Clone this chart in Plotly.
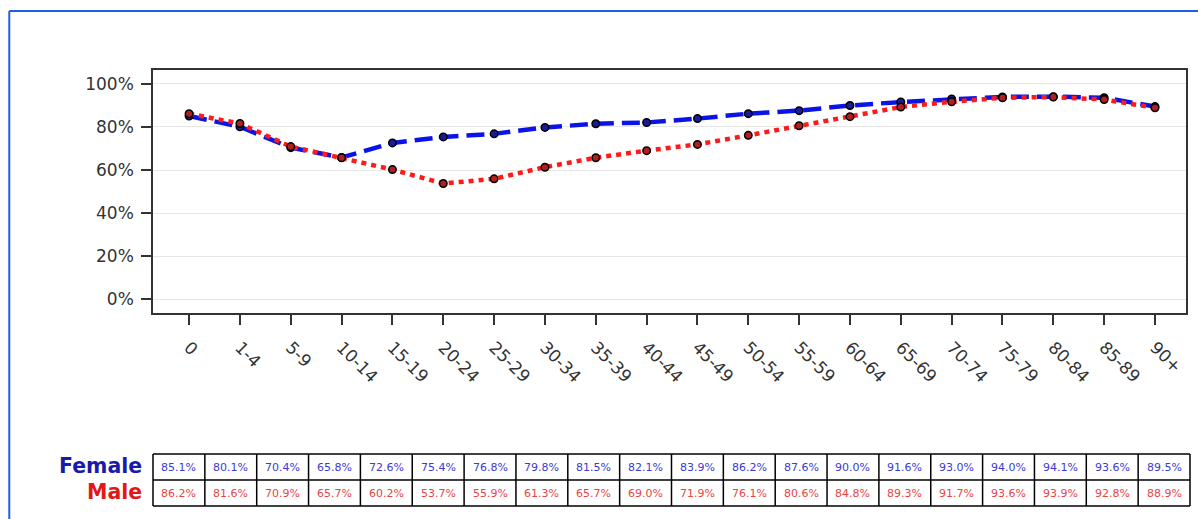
import plotly.graph_objects as go

categories = ["0", "1-4", "5-9", "10-14", "15-19", "20-24", "25-29", "30-34", "35-39",
              "40-44", "45-49", "50-54", "55-59", "60-64", "65-69", "70-74", "75-79",
              "80-84", "85-89", "90+"]
female = [85.1, 80.1, 70.4, 65.8, 72.6, 75.4, 76.8, 79.8, 81.5, 82.1, 83.9, 86.2, 87.6,
          90.0, 91.6, 93.0, 94.0, 94.1, 93.6, 89.5]
male = [86.2, 81.6, 70.9, 65.7, 60.2, 53.7, 55.9, 61.3, 65.7, 69.0, 71.9, 76.1, 80.6,
        84.8, 89.3, 91.7, 93.6, 93.9, 92.8, 88.9]
y_ticks = [0, 20, 40, 60, 80, 100]
y_tick_text = ["0%", "20%", "40%", "60%", "80%", "100%"]
row_labels = ["Female", "Male"]

W, H = 1198, 519
L, R, T, B = 153, 10, 70, 206
PW = W - L - R
PH = H - T - B


def xp(px):
    return (px - L) / PW


def yp(py):
    return (H - B - py) / PH


FEMALE_LINE = "#0a14e6"
MALE_LINE = "#ff1a1a"
FEMALE_TXT = "#3b3bd0"
MALE_TXT = "#e84444"

fig = go.Figure()
fig.add_trace(go.Scatter(
    x=categories, y=female, mode="lines+markers", name="Female",
    line=dict(color=FEMALE_LINE, width=4.5, dash="18px,8px"),
    marker=dict(symbol="circle", size=7.5, color="#1a1a9a",
                line=dict(color="black", width=1.5)),
))
fig.add_trace(go.Scatter(
    x=categories, y=male, mode="lines+markers", name="Male",
    line=dict(color=MALE_LINE, width=4.5, dash="5px,5px"),
    marker=dict(symbol="circle", size=7.5, color="#b02020",
                line=dict(color="black", width=1.5)),
))

shapes = []
annotations = []

# outer blue frame (top and left)
shapes.append(dict(type="line", xref="paper", yref="paper",
                   x0=xp(9), x1=xp(1200), y0=yp(11), y1=yp(11),
                   line=dict(color="#1f5fe0", width=2)))
shapes.append(dict(type="line", xref="paper", yref="paper",
                   x0=xp(9), x1=xp(9), y0=yp(11), y1=yp(521),
                   line=dict(color="#1f5fe0", width=2)))

# data table below the chart
n = len(categories)
tbl_left, tbl_right = 153, 1192
row_edges = [454, 480, 506]
cw = (tbl_right - tbl_left) / n
for r in row_edges:
    shapes.append(dict(type="line", xref="paper", yref="paper",
                       x0=xp(tbl_left), x1=xp(tbl_right), y0=yp(r), y1=yp(r),
                       line=dict(color="black", width=1.5)))
for i in range(n + 1):
    cx = tbl_left + i * cw
    shapes.append(dict(type="line", xref="paper", yref="paper",
                       x0=xp(cx), x1=xp(cx), y0=yp(row_edges[0]), y1=yp(row_edges[-1]),
                       line=dict(color="black", width=1.5)))

for ri, (vals, col) in enumerate([(female, FEMALE_TXT), (male, MALE_TXT)]):
    cy = (row_edges[ri] + row_edges[ri + 1]) / 2
    for i, v in enumerate(vals):
        cx = tbl_left + (i + 0.5) * cw
        annotations.append(dict(xref="paper", yref="paper", x=xp(cx), y=yp(cy),
                                text=f"{v:.1f}%", showarrow=False,
                                xanchor="center", yanchor="middle",
                                font=dict(family="DejaVu Sans", size=11, color=col)))

for ri, (lab, col) in enumerate(zip(row_labels, ["#1a1aa8", "#e01818"])):
    cy = (row_edges[ri] + row_edges[ri + 1]) / 2 - 1
    annotations.append(dict(xref="paper", yref="paper", x=xp(144), y=yp(cy),
                            text=f"<b>{lab}</b>", showarrow=False,
                            xanchor="right", yanchor="middle",
                            font=dict(family="DejaVu Sans", size=20.5, color=col)))

fig.update_layout(
    width=W, height=H,
    margin=dict(l=L, r=R, t=T, b=B, pad=0),
    paper_bgcolor="white", plot_bgcolor="white",
    showlegend=False,
    shapes=shapes, annotations=annotations,
    font=dict(family="DejaVu Sans", color="#333333"),
)
fig.update_xaxes(
    type="category", range=[-0.71, n - 0.39],
    tickangle=45, tickfont=dict(family="DejaVu Sans", size=17, color="#333333"),
    ticks="outside", ticklen=10, tickwidth=1.5, tickcolor="#333333",
    ticklabelstandoff=6,
    showline=True, linecolor="#333333", linewidth=1.5, mirror=True,
    showgrid=False, zeroline=False,
)
fig.update_yaxes(
    range=[-6.5, 106.5], tickmode="array", tickvals=y_ticks, ticktext=y_tick_text,
    tickfont=dict(family="DejaVu Sans", size=17, color="#333333"),
    ticks="outside", ticklen=10, tickwidth=1.5, tickcolor="#333333",
    ticklabelstandoff=4,
    showline=True, linecolor="#333333", linewidth=1.5, mirror=True,
    showgrid=True, gridcolor="#e6e6e6", gridwidth=1, zeroline=False,
)

fig.write_html("out.html", config={"displayModeBar": False},
               post_script="document.body.style.margin='0';document.body.style.padding='0';")
